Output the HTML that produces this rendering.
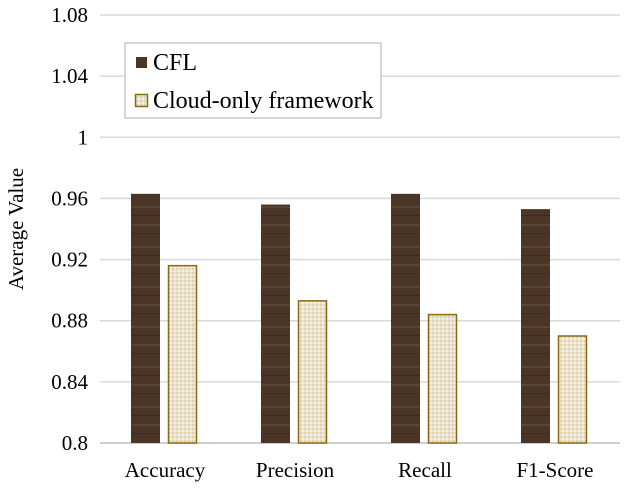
<!DOCTYPE html>
<html><head><meta charset="utf-8"><style>
body{margin:0;background:#fff;}
svg{display:block;font-family:"Liberation Serif",serif;}
</style></head><body>
<svg id="chart" width="629" height="493">
<defs>
<pattern id="wood" width="29" height="40" patternUnits="userSpaceOnUse">
<rect width="29" height="40" fill="#4a3526"/>
<rect y="6" width="29" height="2" fill="#5a4330"/>
<rect y="15" width="29" height="1" fill="#3a291d"/>
<rect y="24" width="29" height="2" fill="#5b4431"/>
<rect y="33" width="29" height="1" fill="#3b2a1e"/>
</pattern>
<pattern id="linen" width="4" height="4" patternUnits="userSpaceOnUse">
<rect width="4" height="4" fill="#ece3cf"/>
<rect width="2" height="2" fill="#ddd0b4"/>
<rect x="2" y="2" width="2" height="2" fill="#f4eee0"/>
</pattern>
</defs>
<g id="grid"></g><g id="bars"></g><g id="labels"></g>
<text transform="translate(23,229) rotate(-90)" text-anchor="middle" font-size="21">Average Value</text>
<g>
<rect x="125" y="43" width="256" height="75" fill="#fff" stroke="#c8c8c8" stroke-width="1.5"/>
<rect x="136" y="57" width="11" height="11" fill="#4a3526"/>
<text x="153" y="70" font-size="24">CFL</text>
<rect x="135.5" y="94.5" width="12" height="12" fill="url(#linen)" stroke="#8a6a10" stroke-width="1.5"/>
<text x="153" y="108" font-size="24">Cloud-only framework</text>
</g>
</svg>
<script>
const categories=["Accuracy","Precision","Recall","F1-Score"];
const cflValues=[0.963,0.956,0.963,0.953];
const cloudValues=[0.916,0.893,0.884,0.870];
const tickLabels=["0.8","0.84","0.88","0.92","0.96","1","1.04","1.08"];
const NS="http://www.w3.org/2000/svg";
const yMin=0.8,yMax=1.08,plotTop=15,plotBot=443,plotLeft=100,plotRight=620;
const y=v=>plotBot-(v-yMin)/(yMax-yMin)*(plotBot-plotTop);
const band=(plotRight-plotLeft)/categories.length;
const xc=i=>plotLeft+band*(i+0.5);
function mk(tag,attrs,parent){const e=document.createElementNS(NS,tag);for(const k in attrs)e.setAttribute(k,attrs[k]);document.getElementById(parent).appendChild(e);return e;}
tickLabels.forEach(t=>{const v=parseFloat(t);const yy=y(v);
const l=mk('line',{x1:plotLeft,x2:plotRight,y1:yy,y2:yy,stroke:v===yMin?'#bfbfbf':'#d9d9d9','stroke-width':1.5},'grid');


const tx=mk('text',{x:88,y:yy+7,'text-anchor':'end','font-size':21},'labels');tx.textContent=t;

});
categories.forEach((c,i)=>{
const b1=mk('rect',{x:xc(i)-34,y:y(cflValues[i]),width:29,height:plotBot-y(cflValues[i]),fill:'url(#wood)'},'bars');


const b2=mk('rect',{x:xc(i)+3.5,y:y(cloudValues[i]),width:28,height:plotBot-y(cloudValues[i]),fill:'url(#linen)',stroke:'#8a6a10','stroke-width':1.5},'bars');


const tx=mk('text',{x:xc(i),y:477,'text-anchor':'middle','font-size':21},'labels');tx.textContent=c;

});
</script>
</body></html>
